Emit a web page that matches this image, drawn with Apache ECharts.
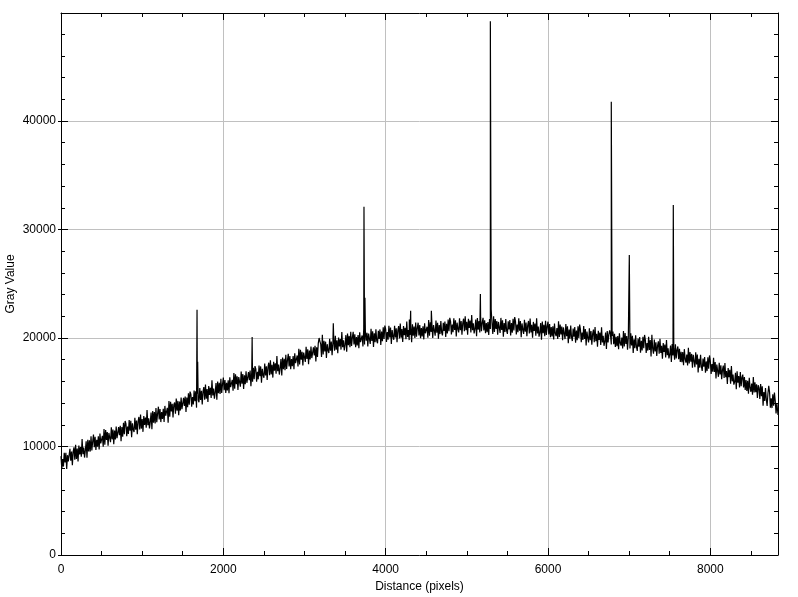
<!DOCTYPE html>
<html>
<head>
<meta charset="utf-8">
<script src="https://cdn.jsdelivr.net/npm/echarts@6/dist/echarts.min.js"></script>
<style>
html,body{margin:0;padding:0;background:#fff;}
#chart{width:798px;height:597px;}
</style>
</head>
<body>
<div id="chart"></div>
<script>
// Profile sampled every 10 pixels of distance, starting at 0
const sampleStep = 10;
const grayValues = [
9110,7940,8840,8150,9430,8520,9430,7920,9200,8630,
8480,9780,8690,9540,8270,9530,9930,8780,10160,8860,
9820,8630,10090,9260,9940,9060,10680,9280,9910,8980,
9630,10480,8960,10620,9550,10570,9530,10940,9640,10440,
11110,9940,10890,9690,10620,9990,10930,9720,11190,10280,
10240,10990,9980,11600,10170,11510,10610,11330,10070,11250,
11420,10390,11780,10660,11560,10210,11470,10640,11840,10770,
10630,11780,11030,11910,10480,11800,10910,12190,11130,12350,
12110,10940,11840,11150,12430,11450,12360,10850,12130,11560,
11340,12640,11550,12400,11130,12320,12720,11570,12950,11650,
12540,11350,12810,11980,12660,11740,13360,11960,12590,11660,
12270,13120,11600,13260,12190,13170,12130,13540,12240,13040,
13670,12500,13450,12250,13180,12540,13480,12270,13740,12830,
12820,13570,12200,14180,12750,14120,13220,13940,12680,13860,
14060,13030,14420,13300,14200,12880,14140,13310,14510,13440,
13330,14480,13730,14610,13180,14510,13620,14900,13840,15060,
14830,13660,14560,13870,15150,14180,15090,13580,14860,14290,
14080,15380,14290,15140,13870,15070,15470,14320,15700,14400,
15300,14110,15570,14740,15420,14480,16100,14700,15330,14400,
14990,15840,14320,15980,14910,15870,14830,16240,14940,15740,
16350,15180,16130,14930,15860,15170,16110,14900,16370,15460,
15400,16150,15140,16760,15330,16650,15750,16470,15210,16390,
16540,15510,16900,15780,16680,15310,16570,15740,16940,15870,
15710,16860,16110,16990,15560,16860,15970,17250,16190,17410,
17150,15980,16880,16190,17470,16470,17380,15870,17150,16580,
16340,17640,16550,17400,16130,17320,17720,16570,17950,16650,
17540,16350,17810,16980,17660,16710,18330,16930,17560,16630,
17210,18060,16540,18200,17130,18080,17040,18450,17150,17950,
18550,17380,18330,17130,18060,17390,18330,17120,18590,17680,
17640,18390,17380,19000,17570,18910,18010,18730,17470,18650,
18820,17790,19180,18060,18960,17590,18850,18020,19220,18150,
17990,19140,18390,19270,17840,19140,18250,19530,20000,19690,
19430,18260,20300,18470,19750,18750,19660,18150,19430,18860,
18620,19920,18830,19680,18410,19580,19980,18830,20210,18910,
19780,18590,20050,19220,19900,18930,20550,19150,19780,18850,
19410,20260,18740,20400,19330,20190,19150,20560,19260,20060,
20570,19400,20350,19150,20080,19320,20260,19050,20520,19610,
19480,20230,19220,20840,19410,20660,19760,20480,19220,20400,
20480,19450,20840,19720,20620,19180,20440,19610,20810,19740,
19510,20660,19910,20790,19360,20590,19700,20980,19920,21140,
20810,19640,20540,19850,21130,20045,20955,19445,20725,20155,
19830,21130,20040,20890,19620,20705,21105,19955,21335,20035,
20820,19630,21090,20260,20940,19885,21505,20105,20735,19805,
20280,21130,19610,21270,20200,21045,20005,21415,20115,20915,
21410,20240,21190,19990,20920,20145,21085,19875,21345,20435,
20290,21040,20030,21650,20220,21450,20550,21270,20010,21190,
21250,20220,21610,20490,21390,19930,21190,20360,21560,20490,
20240,21390,20640,21520,20090,21300,20410,21690,20630,21850,
21500,20330,21230,20540,21820,20730,21640,20130,21410,20840,
20510,21810,20720,21570,20300,21380,21780,20630,22010,20710,
21490,20300,21760,20930,21610,20500,22120,20720,21350,20420,
20840,21690,20170,21830,20760,21550,20510,21920,20620,21420,
21860,20690,21640,20440,21370,20540,21480,20270,21740,20830,
22650,21380,20370,21990,20560,21740,20840,21560,20300,21480,
21490,20460,21850,20730,21630,20120,21380,20550,21750,20680,
20380,21530,20780,21660,20230,21370,20480,21760,20700,21920,
21500,20330,21230,20540,21820,20660,21570,20060,21340,20770,
20370,21670,20580,21430,20160,21170,21570,20420,21800,20500,
21210,20020,21480,20650,21330,20200,21820,20420,21050,20120,
20520,21370,19850,21510,20440,21210,20170,21580,20280,21080,
21500,20330,21280,20080,21010,20130,21070,19860,21330,20420,
20170,20920,19910,21530,20100,21230,20330,21050,19790,20970,
20930,19900,21290,20170,21070,19510,20770,19940,21140,20070,
19720,20870,20120,21000,19570,20680,19790,21070,20010,21230,
20780,19610,20510,19820,21100,19910,20820,19310,20590,20020,
19590,20890,19800,20650,19380,20370,20770,19620,21000,19700,
20390,19200,20660,19830,20510,19360,20980,19580,20210,19280,
19660,20510,18990,20650,19580,20330,20700,20300,19400,20200,
20600,19430,20380,19180,20110,19240,20180,18970,20440,19530,
19290,20040,19030,20650,19220,20450,19460,20180,18920,20100,
20070,19040,20430,19310,20210,18620,19880,19050,20250,19180,
18800,19950,19200,20080,18650,19730,18840,20120,19060,20280,
19800,18630,19530,18840,20120,18900,19810,18300,20300,19010,
18550,19850,18760,19610,18340,19290,19690,18540,19920,18620,
19270,18080,19540,18710,19390,18200,19820,18420,19050,18120,
18460,19310,17790,19450,18380,19040,18000,19410,18110,18910,
19220,18050,19000,17800,18730,17770,18710,17500,18970,18060,
17730,18480,17470,19090,17660,18710,17810,18530,17270,18450,
18330,17300,18690,17570,18470,16830,18090,17260,18460,17390,
16960,18110,17360,18240,16810,17840,16950,18230,17170,18390,
17860,16690,17590,16900,18180,16865,17775,16265,17545,16975,
16420,17720,16630,17480,16210,17065,17465,16315,17695,16395,
16950,15760,17220,16390,17070,15785,17405,16005,16635,15705,
15950,16800,15280,16940,15870,16485,15445,16855,15555,16355,
16620,15450,16400,15200,16130,15125,16065,14855,16325,15415,
15040,15790,14780,16400,14970,15910,15010,15730,14470,15650,
15400,14370,15760,14640,15540,13760,15020,14190,15390,14320,
13730,14880,15600,15010,13580,14430,13540,14820,13760,14980,
14210,13040,13940,13250
];
// Last sample at the right end of the profile
const endDistance = 8834;
const endGray = 12900;
// Narrow peaks (distance, gray value)
const peakDistances = [1676, 1684, 2355, 3355, 3733, 3745, 4292, 4308, 4563, 5167, 5290, 6780, 7002, 7544];
const peakGrays     = [22600, 17800, 20100, 21350, 32100, 23700, 21700, 22500, 22500, 24050, 49200, 41780, 27650, 32260];

const xMax = 8834;
const yMax = 49950;
const xLabelStep = 2000, xMinorStep = 500;
const yLabelStep = 10000, yMinorStep = 2000;

const points = grayValues.map((v, i) => [i * sampleStep, v]);
points.push([endDistance, endGray]);
peakDistances.forEach((d, i) => points.push([d, peakGrays[i]]));
points.sort((a, b) => a[0] - b[0]);

const font = 'Liberation Sans, Arial, sans-serif';
const black = '#000';
const plain = v => String(v);

function xAx(pos, interval, tickLen, main) {
  return {
    type: 'value', position: pos, min: 0, max: xMax, interval: interval,
    axisLine: { show: main, onZero: false, lineStyle: { color: black, width: 1 } },
    axisTick: { show: true, inside: true, length: tickLen, lineStyle: { color: black, width: 1 } },
    axisLabel: { show: main && pos === 'bottom', color: black, fontFamily: font, fontSize: 12, margin: 9, showMaxLabel: false, formatter: plain },
    splitLine: { show: main && pos === 'bottom', lineStyle: { color: '#c0c0c0', width: 1 } },
    name: main && pos === 'bottom' ? 'Distance (pixels)' : '',
    nameLocation: 'middle', nameGap: 26, nameMoveOverlap: false,
    nameTextStyle: { color: black, fontFamily: font, fontSize: 12 }
  };
}
function yAx(pos, interval, tickLen, main, inside) {
  return {
    type: 'value', position: pos, min: 0, max: yMax, interval: interval,
    axisLine: { show: main, onZero: false, lineStyle: { color: black, width: 1 } },
    axisTick: { show: true, inside: inside, length: tickLen, lineStyle: { color: black, width: 1 } },
    axisLabel: { show: main && pos === 'left', color: black, fontFamily: font, fontSize: 12, margin: 5, showMaxLabel: false, formatter: plain },
    splitLine: { show: main && pos === 'left', lineStyle: { color: '#c0c0c0', width: 1 } },
    name: main && pos === 'left' ? 'Gray Value' : '',
    nameLocation: 'middle', nameGap: 44, nameMoveOverlap: false,
    nameTextStyle: { color: black, fontFamily: font, fontSize: 12 }
  };
}

const chart = echarts.init(document.getElementById('chart'), null, { renderer: 'canvas' });
chart.setOption({
  animation: false,
  backgroundColor: '#fff',
  grid: { left: 61, top: 13, right: 20, bottom: 42, containLabel: false, outerBoundsMode: 'none' },
  xAxis: [
    xAx('bottom', xLabelStep, 7, true),
    xAx('bottom', xMinorStep, 4, false),
    xAx('top', xLabelStep, 7, true),
    xAx('top', xMinorStep, 4, false)
  ],
  yAxis: [
    yAx('left', yLabelStep, 3, true, false),
    yAx('left', yLabelStep, 7, false, true),
    yAx('left', yMinorStep, 4, false, true),
    yAx('right', yLabelStep, 7, true, true),
    yAx('right', yMinorStep, 4, false, true)
  ],
  series: [{
    type: 'line',
    xAxisIndex: 0, yAxisIndex: 0,
    data: points,
    showSymbol: false, symbol: 'none',
    sampling: null,
    lineStyle: { color: black, width: 1.2 },
    z: 3
  }]
});
</script>
</body>
</html>
